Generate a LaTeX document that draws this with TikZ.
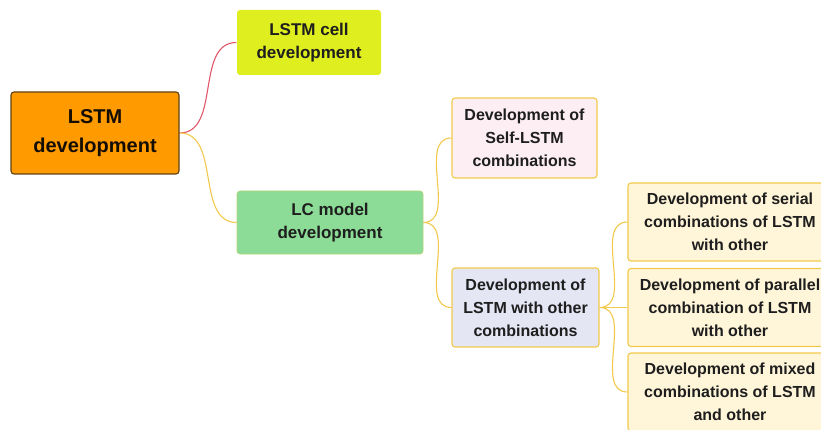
\documentclass[tikz,border=0pt]{standalone}
\usepackage{fontspec}
\setmainfont{Liberation Sans}
\usetikzlibrary{backgrounds}
\definecolor{rootorange}{HTML}{FF9A00}
\definecolor{rootedge}{HTML}{5E4214}
\definecolor{celllime}{HTML}{DFEE1E}
\definecolor{lcgreen}{HTML}{8CDB96}
\definecolor{selfpink}{HTML}{FDEEF4}
\definecolor{otherlav}{HTML}{E4E6F4}
\definecolor{leafcream}{HTML}{FFF5D8}
\definecolor{branchgold}{HTML}{F2C94C}
\definecolor{branchred}{HTML}{E0586A}
\definecolor{textdark}{HTML}{1E1E1E}

\begin{document}
\begin{tikzpicture}[x=1pt,y=-1pt,
  box/.style = {rounded corners=3pt, align=center, inner sep=0pt, text=textdark,
                font=\bfseries\fontsize{16}{23}\selectfont, line width=1.1pt},
  leaf/.style = {box, fill=leafcream, draw=branchgold, minimum width=204pt, minimum height=78pt},
  branch/.style = {line width=1.1pt, out=0, in=180}]
\useasboundingbox (0,0) rectangle (821,430);
\clip (0,0) rectangle (821,430);
					\begin{scope}[every node/.style={box}]
						\node[fill=rootorange,draw=rootedge,minimum width=168pt,minimum height=82pt,text=black!80!rootedge,
						      font=\bfseries\fontsize{20}{29}\selectfont] (root) at (95,133) {LSTM\\development};
						\node[fill=celllime,minimum width=144pt,minimum height=65pt,
						      font=\bfseries\fontsize{17}{23}\selectfont] (cell) at (309,42.5) {LSTM cell\\development};
						\node[fill=lcgreen,draw=branchgold!40!lcgreen,line width=0.6pt,minimum width=186pt,minimum height=63pt,
						      font=\bfseries\fontsize{17}{23}\selectfont] (lc) at (330,222.5) {LC model\\development};
						\node[fill=selfpink,draw=branchgold,minimum width=145pt,minimum height=80pt] (self) at (524.5,138) {Development of\\Self-LSTM\\combinations};
						\node[fill=otherlav,draw=branchgold,minimum width=147pt,minimum height=79pt] (other) at (525.5,307.5) {Development of\\LSTM with other\\combinations};
						\node[leaf] (serial) at (730,222) {Development of serial\\combinations of LSTM\\with other};
						\node[leaf] (parallel) at (730,307.5) {Development of parallel\\combination of LSTM\\with other};
						\node[leaf] (mixed) at (730,392) {Development of mixed\\combinations of LSTM\\and other};
					\end{scope}
					\begin{scope}[on background layer]
					\draw [branch,branchred] (root.east) to (cell.west);
					\draw [branch,branchgold] (root.east) to (lc.west);
					\draw [branch,branchgold] (lc.east) to (self.west);
					\draw [branch,branchgold] (lc.east) to (other.west);
					\draw [branch,branchgold] (other.east) to (serial.west);
					\draw [branch,branchgold] (other.east) to (parallel.west);
					\draw [branch,branchgold] (other.east) to (mixed.west);
					\end{scope}
				\end{tikzpicture}
\end{document}
